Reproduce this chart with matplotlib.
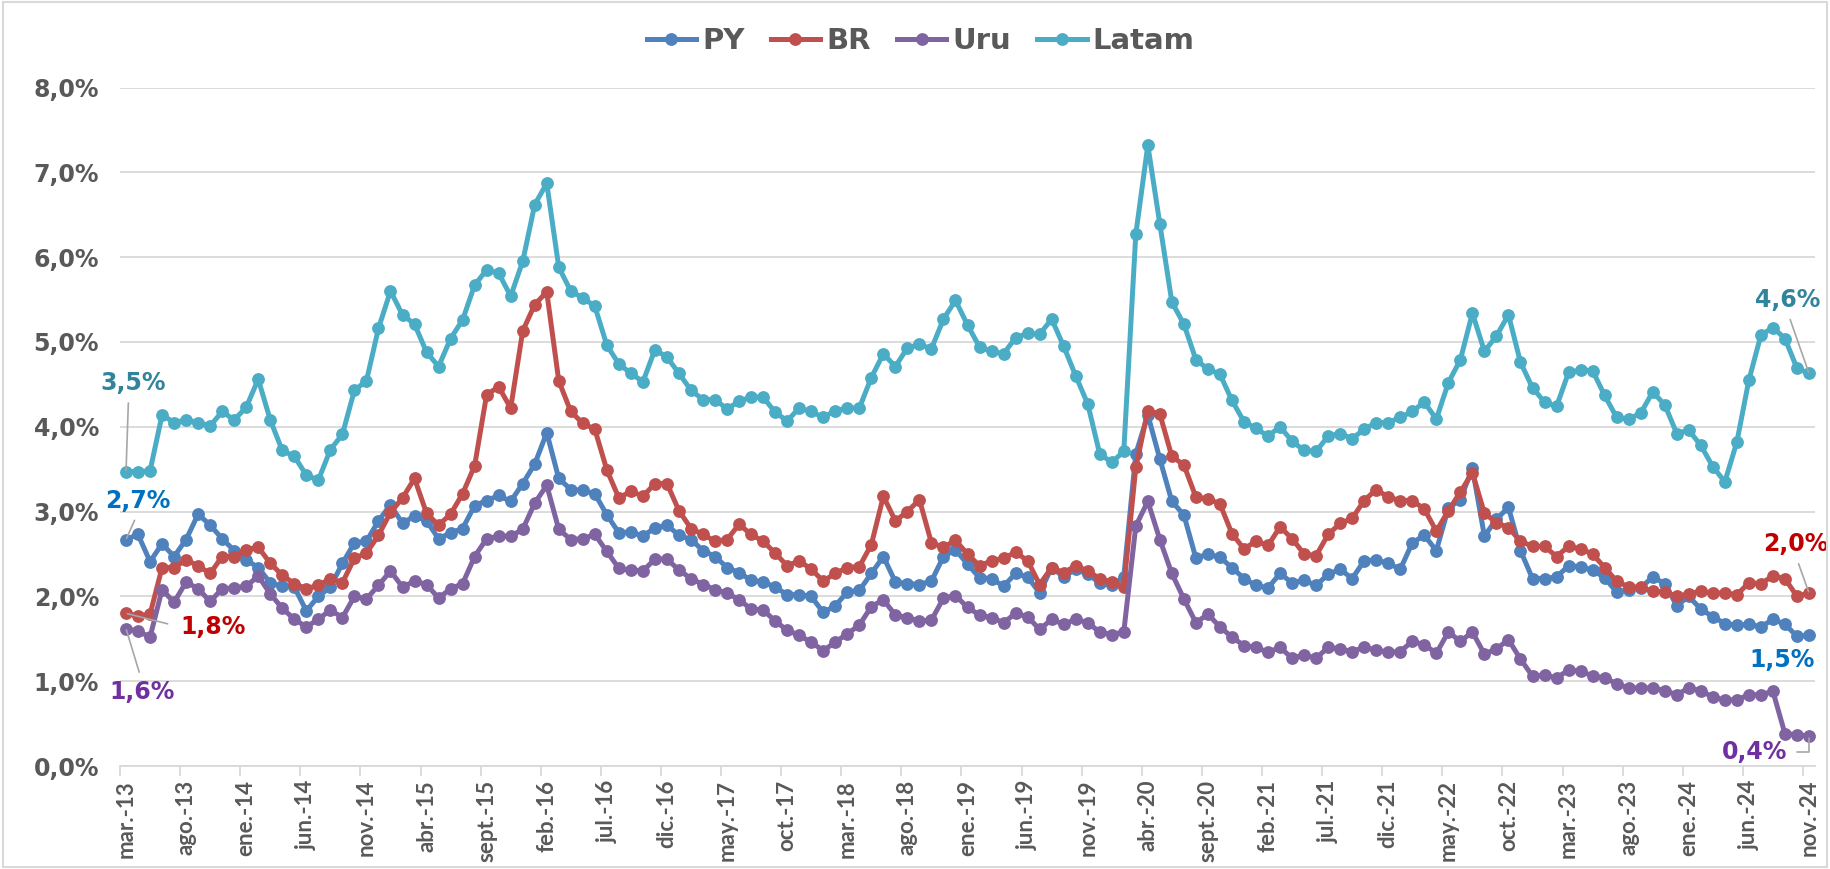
import numpy as np
import matplotlib
matplotlib.use("Agg")
import matplotlib.pyplot as plt
from matplotlib.patches import Rectangle
from matplotlib.lines import Line2D

# ---------------- data ----------------
tick_labels = ["mar.-13", "ago.-13", "ene.-14", "jun.-14", "nov.-14", "abr.-15", "sept.-15",
               "feb.-16", "jul.-16", "dic.-16", "may.-17", "oct.-17", "mar.-18", "ago.-18",
               "ene.-19", "jun.-19", "nov.-19", "abr.-20", "sept.-20", "feb.-21", "jul.-21",
               "dic.-21", "may.-22", "oct.-22", "mar.-23", "ago.-23", "ene.-24", "jun.-24",
               "nov.-24"]

py = [2.67, 2.73, 2.41, 2.62, 2.47, 2.67, 2.97, 2.84, 2.68, 2.54,
      2.43, 2.34, 2.16, 2.12, 2.11, 1.83, 2.00, 2.11, 2.39, 2.63,
      2.65, 2.89, 3.08, 2.86, 2.95, 2.89, 2.68, 2.75, 2.80, 3.07,
      3.13, 3.19, 3.12, 3.33, 3.56, 3.93, 3.39, 3.26, 3.25, 3.21,
      2.96, 2.75, 2.76, 2.71, 2.81, 2.84, 2.72, 2.67, 2.54, 2.47,
      2.34, 2.28, 2.19, 2.17, 2.11, 2.02, 2.02, 2.00, 1.81, 1.89,
      2.05, 2.07, 2.27, 2.47, 2.17, 2.15, 2.14, 2.18, 2.47, 2.55,
      2.38, 2.22, 2.21, 2.12, 2.27, 2.23, 2.04, 2.34, 2.23, 2.32,
      2.26, 2.16, 2.13, 2.23, 3.68, 4.14, 3.62, 3.12, 2.96, 2.45,
      2.50, 2.46, 2.34, 2.21, 2.13, 2.10, 2.27, 2.16, 2.19, 2.13,
      2.26, 2.32, 2.21, 2.42, 2.43, 2.39, 2.32, 2.63, 2.72, 2.54,
      3.04, 3.14, 3.51, 2.71, 2.91, 3.05, 2.54, 2.21, 2.21, 2.23,
      2.36, 2.35, 2.31, 2.22, 2.05, 2.08, 2.10, 2.23, 2.15, 1.89,
      2.00, 1.85, 1.76, 1.68, 1.66, 1.67, 1.64, 1.73, 1.67, 1.53,
      1.54]

br = [1.80, 1.77, 1.79, 2.34, 2.34, 2.43, 2.36, 2.27, 2.47, 2.47,
      2.55, 2.58, 2.39, 2.25, 2.15, 2.09, 2.13, 2.21, 2.16, 2.45,
      2.51, 2.72, 2.99, 3.16, 3.39, 2.98, 2.84, 2.97, 3.21, 3.54,
      4.38, 4.47, 4.22, 5.13, 5.44, 5.59, 4.54, 4.18, 4.04, 3.97,
      3.49, 3.16, 3.24, 3.18, 3.33, 3.33, 3.01, 2.80, 2.73, 2.65,
      2.67, 2.85, 2.73, 2.65, 2.51, 2.36, 2.42, 2.32, 2.18, 2.27,
      2.34, 2.35, 2.61, 3.18, 2.89, 3.00, 3.14, 2.63, 2.58, 2.66,
      2.50, 2.36, 2.42, 2.45, 2.52, 2.42, 2.14, 2.34, 2.28, 2.36,
      2.30, 2.21, 2.17, 2.11, 3.52, 4.19, 4.15, 3.65, 3.55, 3.17,
      3.15, 3.09, 2.74, 2.56, 2.65, 2.60, 2.82, 2.68, 2.50, 2.48,
      2.73, 2.86, 2.92, 3.13, 3.26, 3.17, 3.13, 3.13, 3.03, 2.77,
      3.01, 3.23, 3.46, 2.98, 2.87, 2.81, 2.65, 2.59, 2.59, 2.47,
      2.59, 2.56, 2.50, 2.34, 2.18, 2.11, 2.11, 2.06, 2.05, 2.00,
      2.03, 2.06, 2.04, 2.04, 2.02, 2.16, 2.15, 2.24, 2.21, 2.00,
      2.04]

uru = [1.62, 1.59, 1.52, 2.08, 1.93, 2.17, 2.09, 1.94, 2.09, 2.10,
       2.12, 2.24, 2.03, 1.86, 1.73, 1.64, 1.73, 1.84, 1.75, 2.00,
       1.97, 2.13, 2.30, 2.11, 2.18, 2.14, 1.98, 2.09, 2.15, 2.47,
       2.68, 2.71, 2.71, 2.79, 3.10, 3.31, 2.79, 2.67, 2.68, 2.73,
       2.53, 2.33, 2.31, 2.30, 2.44, 2.44, 2.31, 2.21, 2.14, 2.08,
       2.04, 1.96, 1.85, 1.84, 1.71, 1.60, 1.54, 1.46, 1.36, 1.46,
       1.56, 1.66, 1.88, 1.96, 1.78, 1.75, 1.71, 1.72, 1.98, 2.01,
       1.87, 1.78, 1.75, 1.69, 1.80, 1.76, 1.61, 1.73, 1.67, 1.73,
       1.69, 1.58, 1.55, 1.58, 2.83, 3.12, 2.67, 2.27, 1.97, 1.69,
       1.79, 1.64, 1.52, 1.42, 1.40, 1.34, 1.40, 1.27, 1.31, 1.27,
       1.40, 1.38, 1.35, 1.40, 1.37, 1.34, 1.35, 1.47, 1.43, 1.33,
       1.58, 1.47, 1.58, 1.32, 1.38, 1.49, 1.26, 1.06, 1.07, 1.04,
       1.13, 1.12, 1.06, 1.04, 0.97, 0.92, 0.92, 0.92, 0.89, 0.84,
       0.92, 0.89, 0.81, 0.78, 0.78, 0.84, 0.84, 0.88, 0.38, 0.37,
       0.35]

latam = [3.47, 3.47, 3.48, 4.14, 4.05, 4.08, 4.05, 4.01, 4.18, 4.08,
         4.23, 4.56, 4.08, 3.72, 3.65, 3.43, 3.37, 3.73, 3.91, 4.43,
         4.54, 5.16, 5.60, 5.32, 5.21, 4.88, 4.71, 5.04, 5.26, 5.67,
         5.85, 5.81, 5.54, 5.95, 6.62, 6.87, 5.88, 5.60, 5.52, 5.42,
         4.96, 4.74, 4.63, 4.53, 4.91, 4.82, 4.63, 4.43, 4.32, 4.32,
         4.21, 4.30, 4.35, 4.35, 4.17, 4.07, 4.22, 4.18, 4.11, 4.19,
         4.22, 4.22, 4.58, 4.86, 4.71, 4.93, 4.97, 4.92, 5.27, 5.49,
         5.20, 4.94, 4.89, 4.86, 5.05, 5.10, 5.09, 5.27, 4.95, 4.60,
         4.27, 3.68, 3.58, 3.71, 6.27, 7.32, 6.39, 5.47, 5.21, 4.79,
         4.68, 4.62, 4.31, 4.06, 3.98, 3.89, 4.00, 3.83, 3.72, 3.71,
         3.89, 3.92, 3.86, 3.97, 4.05, 4.05, 4.11, 4.18, 4.29, 4.09,
         4.52, 4.79, 5.34, 4.89, 5.07, 5.32, 4.76, 4.46, 4.29, 4.24,
         4.64, 4.67, 4.66, 4.37, 4.11, 4.09, 4.16, 4.41, 4.26, 3.92,
         3.96, 3.78, 3.53, 3.35, 3.82, 4.55, 5.08, 5.17, 5.04, 4.69,
         4.63]

series_names = ["PY", "BR", "Uru", "Latam"]
series_values = [py, br, uru, latam]
series_colors = ["#4F81BD", "#C0504D", "#8064A2", "#4BACC6"]
label_colors = ["#0070C0", "#C00000", "#7030A0", "#31849B"]

# ---------------- figure ----------------
W, H = 1830, 869
fig = plt.figure(figsize=(W / 100, H / 100), dpi=100)
left_px, right_px, top_px, bot_px = 120, 1815, 87.5, 766
ax = fig.add_axes([left_px / W, 1 - bot_px / H, (right_px - left_px) / W, (bot_px - top_px) / H])

n = len(py)
x = np.arange(n)

for name, vals, col in zip(series_names, series_values, series_colors):
    ax.plot(x, vals, color=col, lw=3.6, marker="o", ms=8.2, mfc=col, mec=col,
            solid_joinstyle="round", label=name, clip_on=False, zorder=3)

ax.set_xlim(-0.5, n - 0.5)
ax.set_ylim(0, 8)

grid_col = "#D9D9D9"
text_col = "#595959"

ax.set_yticks(np.arange(0, 9, 1))
ax.set_yticklabels([f"{v:.1f}%".replace(".", ",") for v in np.arange(0, 9, 1)],
                   fontsize=17, fontweight="bold", color=text_col, family="DejaVu Sans")
ax.yaxis.grid(True, color=grid_col, lw=1.3)
ax.set_axisbelow(True)
ax.tick_params(axis="y", length=0, pad=15)

major_pos = np.arange(0, n, 5)
ax.set_xticks(major_pos)
ax.set_xticklabels(tick_labels, rotation=90, fontsize=16, fontweight="bold",
                   color=text_col, family="Lato")
ax.set_xticks(major_pos - 0.5, minor=True)
ax.tick_params(axis="x", which="major", length=0, pad=10)
ax.tick_params(axis="x", which="minor", length=7, width=1.3, color=grid_col, direction="out")

for s in ["top", "right", "left"]:
    ax.spines[s].set_visible(False)
ax.spines["bottom"].set_color(grid_col)
ax.spines["bottom"].set_linewidth(1.3)

# ---------------- data labels ----------------
lead_col = "#A6A6A6"
lab_font = dict(fontsize=17, fontweight="bold", family="DejaVu Sans")

def lab(text, idx, vals, col, tx, ty, relpos, shrinkA=2, conn="arc3", leader=True):
    kw = dict(xy=(idx, vals[idx]), xytext=(tx, ty), textcoords="data",
              ha="center", va="center", color=col, annotation_clip=False, zorder=5, **lab_font)
    if leader:
        kw["arrowprops"] = dict(arrowstyle="-", color=lead_col, lw=1.2, relpos=relpos,
                                shrinkA=shrinkA, shrinkB=1, connectionstyle=conn)
    ax.annotate(text, **kw)

last = n - 1
lab("3,5%", 0, latam, label_colors[3], 0.6, 4.52, (0.43, 0.0), shrinkA=4)
lab("2,7%", 0, py, label_colors[0], 1.0, 3.13, (0.5, 0.0), shrinkA=4)
lab("1,8%", 0, br, label_colors[1], 7.2, 1.64, (0.0, 0.5), shrinkA=7)
lab("1,6%", 0, uru, label_colors[2], 1.3, 0.87, (0.5, 1.0), shrinkA=4)

lab("4,6%", last, latam, label_colors[3], 138.2, 5.50, (0.5, 0.0), shrinkA=4)
lab("2,0%", last, br, label_colors[1], 138.9, 2.62, (0.5, 0.0), shrinkA=4)
lab("1,5%", last, py, label_colors[0], 137.8, 1.25, (0.5, 1.0), leader=False)
lab("0,4%", last, uru, label_colors[2], 135.5, 0.17, (1.0, 0.5), shrinkA=5,
    conn="angle,angleA=0,angleB=90,rad=0")

# ---------------- legend ----------------
handles = [Line2D([], [], color=c, lw=3.6, marker="o", ms=8.2, mfc=c, mec=c) for c in series_colors]
fig.legend(handles, series_names, loc="center", bbox_to_anchor=(0.503, 0.953), ncol=4,
           frameon=False, prop=dict(family="DejaVu Sans", weight="bold", size=21),
           labelcolor=text_col, handlelength=1.7, handletextpad=0.2, columnspacing=0.9)

# chart border
fig.add_artist(Rectangle((0.0015, 0.002), 0.997, 0.996, transform=fig.transFigure,
                         fill=False, ec=grid_col, lw=1.5))

fig.savefig("out.png", dpi=100, facecolor="white")
